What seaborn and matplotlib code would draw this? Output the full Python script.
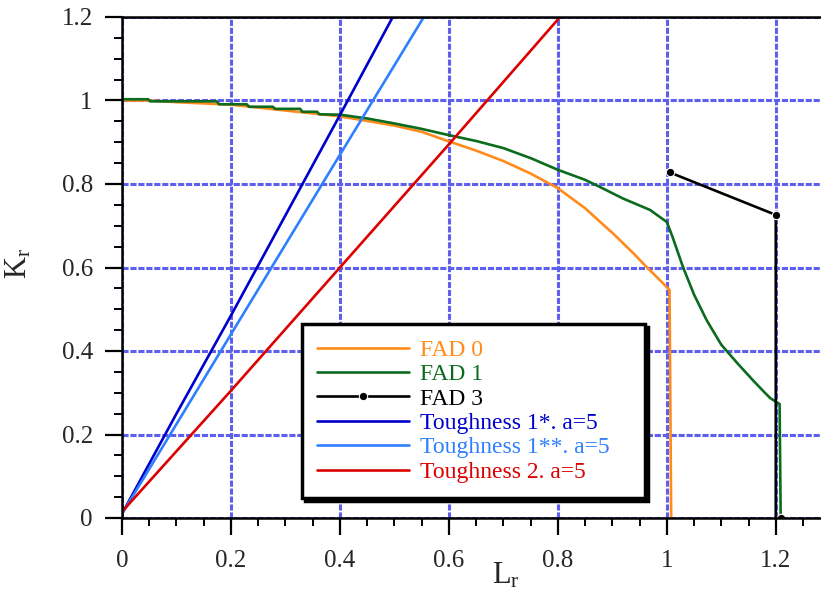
import matplotlib
matplotlib.use("Agg")
import matplotlib.pyplot as plt
import seaborn as sns
import pandas as pd
from matplotlib.ticker import MultipleLocator, FuncFormatter

# failure assessment diagram curves
fad0_L = [0, 0.05, 0.1, 0.2, 0.3, 0.4, 0.5, 0.55, 0.6, 0.65, 0.7, 0.75, 0.8,
          0.85, 0.877, 0.9, 0.938, 0.96, 0.987, 1.005, 1.008]
fad0_K = [1.0, 1.0, 0.996, 0.99, 0.976, 0.962, 0.94, 0.925, 0.902, 0.88, 0.855,
          0.825, 0.79, 0.742, 0.71, 0.683, 0.635, 0.605, 0.57, 0.546, 0.0]

fad1_L = [0, 0.048, 0.052, 0.174, 0.178, 0.229, 0.233, 0.277, 0.281, 0.327,
          0.331, 0.358, 0.362, 0.4, 0.45, 0.5, 0.55, 0.6, 0.65, 0.7, 0.75, 0.8,
          0.85, 0.877, 0.92, 0.969, 1.0, 1.01, 1.03, 1.05, 1.073, 1.1, 1.13,
          1.158, 1.18, 1.19, 1.207, 1.209]
fad1_K = [1.003, 1.003, 0.998, 0.998, 0.991, 0.991, 0.985, 0.985, 0.98, 0.98,
          0.973, 0.973, 0.967, 0.966, 0.957, 0.945, 0.932, 0.917, 0.903, 0.886,
          0.862, 0.834, 0.81, 0.793, 0.765, 0.738, 0.709, 0.675, 0.60, 0.535,
          0.474, 0.415, 0.37, 0.33, 0.30, 0.287, 0.273, 0.0]

fad3_L = [1.005, 1.2, 1.2, 1.21]
fad3_K = [0.828, 0.726, 0.0, 0.0]

t1_L = [0, 0.1, 0.2, 0.3, 0.4, 0.497]
t1_K = [0.01, 0.25, 0.485, 0.725, 0.965, 1.2]

t1s_L = [0, 0.1, 0.2, 0.3, 0.4, 0.554]
t1s_K = [0.01, 0.225, 0.44, 0.655, 0.87, 1.2]

t2_L = [0, 0.2, 0.4, 0.6, 0.804]
t2_K = [0.015, 0.305, 0.6, 0.895, 1.2]

series = [
    ("FAD 0", fad0_L, fad0_K, "#ff8c1a"),
    ("FAD 1", fad1_L, fad1_K, "#0b6b1e"),
    ("FAD 3", fad3_L, fad3_K, "black"),
    ("Toughness 1*. a=5", t1_L, t1_K, "#0000cc"),
    ("Toughness 1**. a=5", t1s_L, t1s_K, "#2f80ff"),
    ("Toughness 2. a=5", t2_L, t2_K, "#dd0000"),
]

sns.set_theme(style="white")
plt.rcParams["font.family"] = ["Liberation Serif", "DejaVu Serif"]
plt.rcParams["mathtext.fontset"] = "stix"

fig = plt.figure(figsize=(8.21, 5.98), dpi=100)
ax = fig.add_axes([122 / 821, 1 - 518 / 598, 699 / 821, 501 / 598])

for name, L, K, col in series:
    df = pd.DataFrame({"L": L, "K": K})
    kw = {}
    if name == "FAD 3":
        kw = dict(marker="o", markersize=6, markevery=[0, 1, 3])
    sns.lineplot(data=df, x="L", y="K", ax=ax, color=col, sort=False,
                 estimator=None, linewidth=1.9, label=name, **kw)

ax.set_xlim(0, 1.283)
ax.set_ylim(0, 1.2)
ax.xaxis.set_major_locator(MultipleLocator(0.2))
ax.yaxis.set_major_locator(MultipleLocator(0.2))
ax.xaxis.set_minor_locator(MultipleLocator(0.05))
ax.yaxis.set_minor_locator(MultipleLocator(0.05))
fmt = FuncFormatter(lambda v, p: ("%.1f" % v).rstrip("0").rstrip("."))
ax.xaxis.set_major_formatter(fmt)
ax.yaxis.set_major_formatter(fmt)

ax.grid(True, which="major", color="#5f5fee", linestyle=(0, (2, 0.6)), linewidth=2.2)
ax.tick_params(which="major", direction="out", length=12, width=1.6,
               labelsize=18, pad=9, color="black", bottom=True, left=True)
ax.tick_params(axis="x", which="major", pad=11)
ax.tick_params(which="minor", direction="out", length=6, width=1.4,
               color="black", bottom=True, left=True)

for side in ["left", "bottom", "top"]:
    ax.spines[side].set_color("black")
    ax.spines[side].set_linewidth(1.8)
ax.spines["right"].set_visible(False)

ax.set_xlabel(r"$\mathregular{L_r}$", fontsize=22)
ax.set_ylabel(r"$\mathregular{K_r}$", fontsize=22)
ax.xaxis.set_label_coords(0.549, -0.085)
ax.yaxis.set_label_coords(-0.126, 0.509)

leg = ax.legend(loc="upper left", bbox_to_anchor=(0.2575, 0.042, 0.491, 0.345),
                mode="expand", fontsize=17, labelcolor="linecolor",
                handlelength=3.9, handletextpad=0.45, labelspacing=0.12,
                borderpad=0.65, borderaxespad=0, fancybox=False,
                shadow={"color": "black", "alpha": 1}, framealpha=1)
leg.get_frame().set_edgecolor("black")
leg.get_frame().set_linewidth(2.5)

fig.savefig("out.png", dpi=100)
